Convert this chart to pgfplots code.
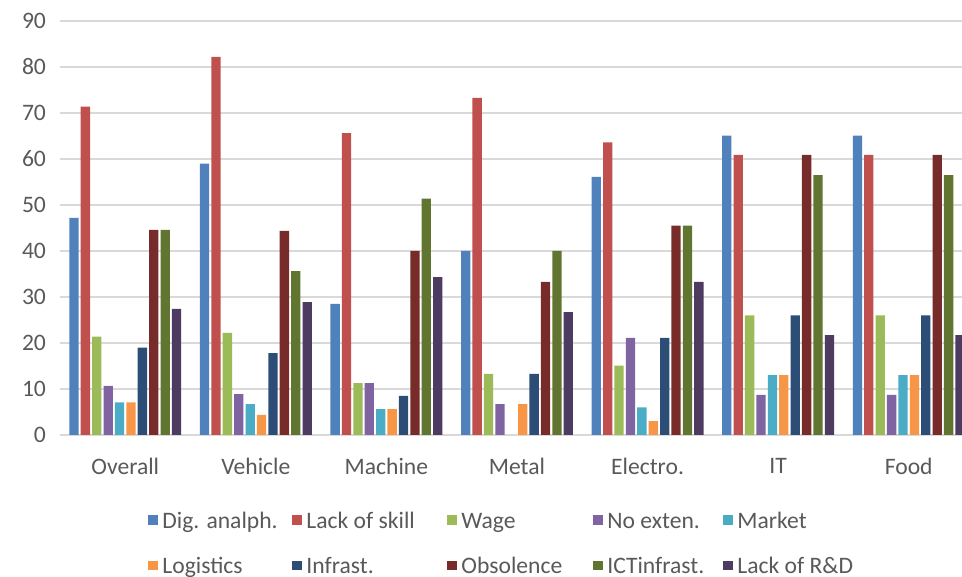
\documentclass[border=0pt]{standalone}
\usepackage{fontspec}
\setmainfont{Carlito}
\usepackage{pgfplots}
\pgfplotsset{compat=1.18}
\definecolor{cA}{HTML}{4F81BD}
\definecolor{cB}{HTML}{C0504D}
\definecolor{cC}{HTML}{9BBB59}
\definecolor{cD}{HTML}{8064A2}
\definecolor{cE}{HTML}{4BACC6}
\definecolor{cF}{HTML}{F79646}
\definecolor{cG}{HTML}{2C4D75}
\definecolor{cH}{HTML}{772C2A}
\definecolor{cI}{HTML}{5F7530}
\definecolor{cJ}{HTML}{4D3B62}
\definecolor{txtgray}{HTML}{595959}
\definecolor{gridgray}{HTML}{D9D9D9}
\pgfplotsset{mybar/.style={fill=#1, draw=none,
  legend image code/.code={\fill[#1] (0pt,-2.4pt) rectangle (4.8pt,2.4pt);}}}
\newcommand{\lb}[2]{\makebox[#1][l]{\strut #2}}
\begin{document}
\begin{tikzpicture}
\path[use as bounding box] (-30pt,-71pt) rectangle (451pt,217.5pt);
\clip (-30pt,-71pt) rectangle (451pt,217.5pt);
\begin{axis}[
  at={(0pt,0pt)}, anchor=south west,
  scale only axis, width=457pt, height=207pt,
  ymin=0, ymax=90, ytick={0,10,...,90},
  xmin=-0.5, xmax=6.5,
  xtick={0,...,6},
  xticklabels={Overall,Vehicle,Machine,Metal,Electro.,IT,Food},
  ybar=1.05pt, bar width=4.65pt,
  ymajorgrids, grid style={line width=0.8pt, color=gridgray},
  axis line style={draw=none},
  major tick length=0pt,
  tick label style={font=\fontsize{11.8}{14}\selectfont, text=txtgray},
  /pgf/number format/assume math mode=true,
  xticklabel style={yshift=-8pt},
  yticklabel style={xshift=-3.5pt},
  legend columns=5,
  legend cell align=left,
  legend style={at={(0.0963,-0.2597)}, anchor=west, draw=none, fill=none,
    inner sep=0pt, row sep=9.5pt,
    font=\fontsize{11.8}{14}\selectfont, text=txtgray,
    nodes={inner sep=1pt},
    /tikz/every odd column/.append style={column sep=1.2pt}},
]
\addplot[mybar=cA] coordinates {(0,47.2) (1,59.0) (2,28.5) (3,40.0) (4,56.1) (5,65.1) (6,65.1)};
\addlegendentry{\lb{64pt}{Dig. analph.}}
\addplot[mybar=cB] coordinates {(0,71.4) (1,82.2) (2,65.6) (3,73.3) (4,63.6) (5,60.9) (6,60.9)};
\addlegendentry{\lb{69.5pt}{Lack of skill}}
\addplot[mybar=cC] coordinates {(0,21.4) (1,22.2) (2,11.3) (3,13.3) (4,15.1) (5,26.0) (6,26.0)};
\addlegendentry{\lb{65pt}{Wage}}
\addplot[mybar=cD] coordinates {(0,10.7) (1,8.9) (2,11.3) (3,6.7) (4,21.1) (5,8.7) (6,8.7)};
\addlegendentry{\lb{57pt}{No exten.}}
\addplot[mybar=cE] coordinates {(0,7.1) (1,6.7) (2,5.6) (4,6.0) (5,13.0) (6,13.0)};
\addlegendentry{\lb{60pt}{Market}}
\addplot[mybar=cF] coordinates {(0,7.1) (1,4.4) (2,5.6) (3,6.7) (4,3.0) (5,13.0) (6,13.0)};
\addlegendentry{\lb{64pt}{Logistics}}
\addplot[mybar=cG] coordinates {(0,19.0) (1,17.8) (2,8.5) (3,13.3) (4,21.1) (5,26.0) (6,26.0)};
\addlegendentry{\lb{69.5pt}{Infrast.}}
\addplot[mybar=cH] coordinates {(0,44.6) (1,44.4) (2,40.0) (3,33.3) (4,45.5) (5,60.9) (6,60.9)};
\addlegendentry{\lb{65pt}{Obsolence}}
\addplot[mybar=cI] coordinates {(0,44.6) (1,35.6) (2,51.4) (3,40.0) (4,45.5) (5,56.5) (6,56.5)};
\addlegendentry{\lb{57pt}{ICTinfrast.}}
\addplot[mybar=cJ] coordinates {(0,27.4) (1,28.9) (2,34.3) (3,26.7) (4,33.3) (5,21.7) (6,21.7)};
\addlegendentry{\lb{60pt}{Lack of R\&D}}
\end{axis}
\end{tikzpicture}
\end{document}
